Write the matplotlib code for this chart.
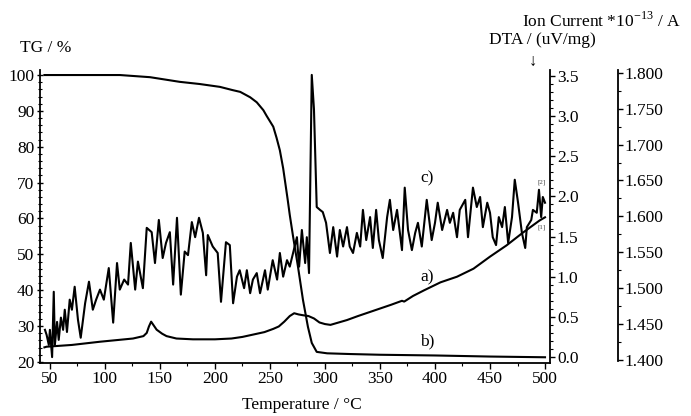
import matplotlib

matplotlib.use("Agg")
import matplotlib.pyplot as plt
from matplotlib.ticker import MultipleLocator, FormatStrFormatter

plt.rcParams["font.family"] = ["Liberation Serif", "DejaVu Serif"]
plt.rcParams["font.size"] = 12.5
plt.rcParams["mathtext.fontset"] = "custom"
plt.rcParams["mathtext.rm"] = "Liberation Serif"

# TG curve b) (%)
TG_T = [45, 80, 113.6, 141, 168, 186, 204.5, 216, 223, 232, 238, 244, 247, 253, 256,
        259, 262, 266, 268, 271, 275.5, 280, 284.5, 288, 292.5, 302, 323, 350, 400, 450, 500]
TG_VAL = [100, 100, 100, 99.4, 98.1, 97.5, 96.7, 95.8, 95.3, 93.8, 92.4, 90.2, 88.6, 85.6, 82.5,
          79, 74, 65.5, 61, 55, 46.5, 37.3, 29.8, 25.3, 22.8, 22.4, 22.2, 22.0, 21.8, 21.5, 21.3]

# DTA curve a) (uV/mg)
DTA_T = [45, 47, 70, 95.5, 125.5, 135, 138, 140, 142, 144, 147, 152, 156, 165, 180, 200, 215,
         225, 235, 245, 253, 258, 263, 268, 272, 276, 280, 285, 290, 295, 300, 305, 310, 320,
         330, 345, 360, 370, 372, 380, 390, 405, 420, 435, 450, 465, 480, 495, 500]
DTA_VAL = [0.12, 0.128, 0.15, 0.19, 0.23, 0.26, 0.30, 0.38, 0.44, 0.40, 0.34, 0.29, 0.26, 0.23,
           0.22, 0.22, 0.23, 0.25, 0.28, 0.31, 0.35, 0.38, 0.44, 0.51, 0.545, 0.53, 0.52, 0.51,
           0.48, 0.43, 0.41, 0.40, 0.42, 0.46, 0.51, 0.58, 0.65, 0.70, 0.69, 0.76, 0.83, 0.93,
           1.0, 1.1, 1.25, 1.39, 1.55, 1.70, 1.74]

# Ion current curve c) (*1e-13 A)
ION_T = [45.5, 47, 49, 50, 52, 53.5, 54.5, 56.5, 58, 60, 62, 63.5, 65.5, 68, 70, 72.5, 75.5, 78,
         82, 85.5, 89, 92, 95.5, 99, 103.5, 107.5, 111, 113.5, 117.5, 121, 123.5, 127.5, 130,
         134.5, 138, 142.5, 145.5, 149, 152.5, 155.5, 159, 162, 165.5, 169, 172.5, 175.5, 179,
         182, 185.5, 189, 192, 193.5, 198, 202.5, 205.5, 210, 213.5, 216.5, 220, 222.5, 226.5,
         229, 232, 234.5, 238, 241, 245.5, 248, 252.5, 256.5, 259, 262, 265.5, 268, 271, 274.5,
         276.5, 279, 282, 283.5, 285.5, 286.5, 288, 290, 292.5, 295.5, 298, 301, 304.5, 307.5,
         311, 313.5, 316.5, 320, 322.5, 325.5, 329, 332, 334.5, 337.5, 341, 343.5, 346.5, 349,
         352.5, 356.5, 359, 362, 365.5, 370, 372.5, 375.5, 379, 382, 384.5, 388, 392.5, 397,
         400, 402.5, 406.5, 411, 413.5, 416.5, 420, 422.5, 427.5, 430, 434.5, 438, 441, 443.5,
         447.5, 450, 452.5, 455.5, 458, 461, 463.5, 466.5, 470, 472.5, 475.5, 479, 482, 483.5,
         487.5, 489, 492.5, 494.5, 496.5, 498, 500]
ION_VAL = [1.442, 1.435, 1.421, 1.442, 1.404, 1.495, 1.421, 1.453, 1.428, 1.459, 1.442, 1.470,
           1.439, 1.484, 1.470, 1.502, 1.456, 1.431, 1.479, 1.509, 1.470, 1.484, 1.498, 1.484,
           1.528, 1.452, 1.535, 1.498, 1.512, 1.505, 1.563, 1.498, 1.537, 1.500, 1.584, 1.578,
           1.535, 1.595, 1.542, 1.563, 1.578, 1.505, 1.598, 1.491, 1.551, 1.546, 1.592, 1.571,
           1.598, 1.577, 1.518, 1.574, 1.558, 1.549, 1.481, 1.564, 1.560, 1.479, 1.516, 1.525,
           1.500, 1.525, 1.493, 1.512, 1.521, 1.493, 1.525, 1.498, 1.539, 1.512, 1.549, 1.516,
           1.539, 1.530, 1.549, 1.571, 1.530, 1.581, 1.535, 1.571, 1.521, 1.633, 1.797, 1.749,
           1.613, 1.609, 1.606, 1.591, 1.549, 1.585, 1.544, 1.581, 1.558, 1.585, 1.558, 1.549,
           1.577, 1.558, 1.609, 1.567, 1.599, 1.556, 1.609, 1.567, 1.542, 1.599, 1.623, 1.581,
           1.609, 1.553, 1.640, 1.581, 1.553, 1.577, 1.591, 1.558, 1.623, 1.567, 1.591, 1.619,
           1.581, 1.609, 1.591, 1.605, 1.571, 1.609, 1.623, 1.571, 1.640, 1.613, 1.627, 1.585,
           1.619, 1.605, 1.571, 1.560, 1.599, 1.585, 1.613, 1.563, 1.599, 1.651, 1.619, 1.577,
           1.556, 1.585, 1.595, 1.609, 1.605, 1.637, 1.599, 1.627, 1.619]

LW = 1.5

fig = plt.figure(figsize=(6.91, 4.16), dpi=100)
ax = fig.add_axes([0.0579, 0.1274, 0.738, 0.7043])
ax2 = ax.twinx()
ax3 = ax.twinx()

ax.plot(TG_T, TG_VAL, color="black", linewidth=LW)
ax2.plot(DTA_T, DTA_VAL, color="black", linewidth=LW)
ax3.plot(ION_T, ION_VAL, color="black", linewidth=LW)

ax.set_xlim(41, 504.5)
ax.set_ylim(19.7, 101.4)
ax2.set_ylim(-0.075, 3.575)
ax3.set_ylim(1.3958, 1.8038)

for a in (ax, ax2, ax3):
    a.spines["top"].set_visible(False)
    a.patch.set_visible(False)
ax.spines["right"].set_visible(False)
ax3.spines["left"].set_visible(False)
ax3.spines["bottom"].set_visible(False)
ax2.spines["left"].set_visible(False)
ax2.spines["bottom"].set_visible(False)
ax3.spines["right"].set_position(("axes", 1.133))
ax3.spines["right"].set_bounds(1.3985, 1.8038)
for a in (ax, ax2, ax3):
    for s in a.spines.values():
        s.set_linewidth(1.3)

ax.xaxis.set_major_locator(MultipleLocator(50))
ax.xaxis.set_minor_locator(MultipleLocator(25))
ax.yaxis.set_major_locator(MultipleLocator(10))
ax.yaxis.set_minor_locator(MultipleLocator(2))
ax.tick_params(axis="x", which="major", direction="out", length=4, width=1, pad=2)
ax.tick_params(axis="x", which="minor", direction="out", length=2.5, width=0.8)
ax.tick_params(axis="y", which="major", direction="inout", length=5, width=1, pad=1.5)
ax.tick_params(axis="y", which="minor", direction="inout", length=2.5, width=0.8)

ax2.yaxis.set_major_locator(MultipleLocator(0.5))
ax2.yaxis.set_minor_locator(MultipleLocator(0.1))
ax2.yaxis.set_major_formatter(FormatStrFormatter("%.1f"))
ax2.tick_params(axis="y", which="major", direction="out", length=3.5, width=1, pad=1.5)
ax2.tick_params(axis="y", which="minor", direction="out", length=2, width=0.8)

ax3.yaxis.set_major_locator(MultipleLocator(0.05))
ax3.yaxis.set_minor_locator(MultipleLocator(0.025))
ax3.yaxis.set_major_formatter(FormatStrFormatter("%.3f"))
ax3.tick_params(axis="y", which="major", direction="out", length=3.5, width=1, pad=1.5)
ax3.tick_params(axis="y", which="minor", direction="out", length=2, width=0.8)

# axis titles
fig.text(46 / 691, 1 - 48 / 416, "TG / %", ha="center", va="center")
fig.text(601 / 691, 1 - 21 / 416, r"Ion Current *10$^{\mathrm{-13}}$ / A", ha="center", va="center")
fig.text(542 / 691, 1 - 40 / 416, "DTA / (uV/mg)", ha="center", va="center")
fig.text(533 / 691, 1 - 62 / 416, "\u2193", ha="center", va="center", fontsize=12)
fig.text(302 / 691, 1 - 405 / 416, "Temperature / \u00b0C", ha="center", va="center")

# curve labels
ax.text(392.7, 71.3, "c)", ha="center", va="center")
ax.text(392.7, 43.7, "a)", ha="center", va="center")
ax.text(392.7, 25.6, "b)", ha="center", va="center")
ax.text(497, 70.2, "[2]", ha="center", va="center", fontsize=5, color="#444444")
ax.text(497, 57.6, "[1]", ha="center", va="center", fontsize=5, color="#444444")

fig.savefig("out.png", dpi=100)
